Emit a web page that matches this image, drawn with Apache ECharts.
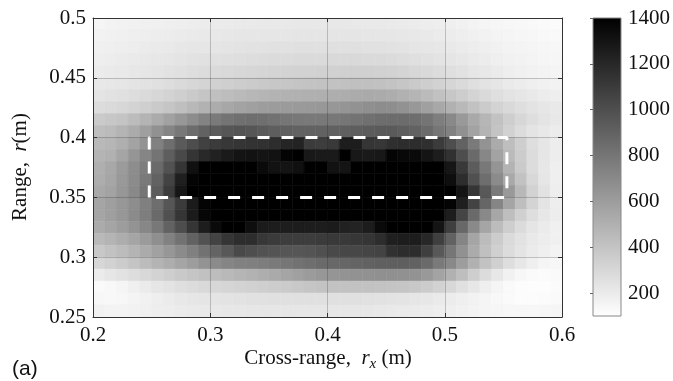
<!DOCTYPE html>
<html><head><meta charset="utf-8">
<script src="https://cdn.jsdelivr.net/npm/echarts@6/dist/echarts.min.js"></script>
<style>html,body{margin:0;padding:0;background:#fff}#c{width:673px;height:381px}</style>
</head><body><div id="c"></div>
<script>
// cell centers (m)
const xCenters = [0.205,0.215,0.225,0.235,0.245,0.255,0.265,0.275,0.285,0.295,0.305,0.315,0.325,0.335,0.345,0.355,0.365,0.375,0.385,0.395,0.405,0.415,0.425,0.435,0.445,0.455,0.465,0.475,0.485,0.495,0.505,0.515,0.525,0.535,0.545,0.555,0.565,0.575,0.585,0.595];
const yCenters = [0.495,0.485,0.475,0.465,0.455,0.445,0.435,0.425,0.415,0.405,0.395,0.385,0.375,0.365,0.355,0.345,0.335,0.325,0.315,0.305,0.295,0.285,0.275,0.265,0.255];
// image intensity, one array per range row (top to bottom)
const z0495 = [150,160,165,170,175,175,180,185,190,195,200,200,205,205,210,210,210,215,215,215,215,215,210,210,210,205,200,195,190,185,180,170,160,150,145,140,135,130,125,120];
const z0485 = [165,170,175,180,185,190,195,200,205,210,215,220,225,225,230,230,230,235,235,235,235,235,235,230,230,225,220,215,210,200,195,185,175,165,155,150,145,140,135,130];
const z0475 = [175,180,185,190,200,205,210,220,225,230,235,240,245,250,250,255,255,260,260,260,260,260,260,255,255,250,245,235,230,220,210,200,190,180,170,160,155,150,145,140];
const z0465 = [185,190,200,205,215,220,230,240,250,255,260,265,270,275,280,285,285,290,290,290,295,295,295,290,290,285,275,265,255,245,235,220,205,195,180,170,165,155,150,145];
const z0455 = [200,205,210,220,230,240,250,260,270,280,290,295,305,310,315,320,325,330,330,335,335,340,340,340,335,330,320,305,295,280,265,250,230,215,200,185,175,165,160,155];
const z0445 = [215,220,230,240,250,260,275,290,305,320,335,345,355,365,375,385,390,400,405,410,410,415,420,420,415,405,390,370,350,330,310,290,265,245,225,205,195,180,170,165];
const z0435 = [240,250,260,275,290,305,325,345,370,395,420,435,450,465,475,485,495,500,505,510,515,520,530,535,530,520,500,475,445,415,385,355,320,290,265,245,225,210,195,185];
const z0425 = [280,290,305,325,345,370,395,425,460,495,525,550,570,585,600,605,610,615,620,625,630,640,655,670,680,675,655,625,585,545,500,455,410,365,325,295,270,245,225,210];
const z0415 = [370,385,400,440,480,530,580,630,680,730,780,810,830,840,835,820,800,790,785,785,790,800,815,830,845,850,850,840,810,760,700,620,540,470,410,350,305,270,240,215];
const z0405 = [430,445,480,530,590,660,720,790,850,900,930,960,970,960,940,920,910,900,900,900,905,910,920,930,940,940,920,900,860,800,740,660,570,480,400,330,280,240,215,195];
const z0395 = [455,470,510,570,650,740,840,940,1010,1070,1100,1120,1130,1140,1150,1170,1210,1220,1100,1090,1110,1250,1250,1130,1120,1160,1170,1170,1160,1100,1000,900,780,650,530,430,350,270,230,190];
const z0385 = [480,500,560,640,720,810,920,1030,1130,1190,1230,1270,1300,1310,1300,1310,1380,1400,1280,1270,1270,1400,1280,1270,1280,1380,1360,1350,1300,1250,1150,1000,860,710,570,450,360,280,230,190];
const z0375 = [510,545,610,680,760,860,980,1130,1320,1400,1400,1400,1400,1400,1350,1310,1300,1320,1400,1400,1310,1300,1400,1400,1400,1400,1400,1400,1400,1400,1290,1110,930,790,640,490,370,280,220,180];
const z0365 = [520,555,620,690,780,900,1060,1240,1380,1400,1400,1400,1400,1400,1400,1400,1400,1400,1400,1400,1400,1400,1400,1400,1400,1400,1400,1400,1400,1400,1330,1170,990,840,690,540,410,300,230,180];
const z0355 = [545,570,630,700,800,930,1100,1290,1400,1400,1400,1400,1400,1400,1400,1400,1400,1400,1400,1400,1400,1400,1400,1400,1400,1400,1400,1400,1400,1400,1400,1300,1130,950,780,620,460,330,250,185];
const z0345 = [560,590,630,680,750,840,960,1100,1260,1380,1400,1400,1400,1400,1400,1400,1400,1400,1400,1400,1400,1400,1400,1400,1400,1400,1400,1400,1400,1400,1380,1240,1060,880,720,560,430,320,240,185];
const z0335 = [560,590,630,690,760,860,990,1130,1260,1370,1400,1400,1400,1400,1400,1400,1400,1400,1400,1400,1400,1400,1400,1400,1400,1400,1400,1400,1400,1400,1250,1050,860,700,550,430,340,270,220,190];
const z0325 = [530,560,600,650,710,790,900,1010,1130,1250,1350,1400,1400,1330,1260,1250,1250,1250,1250,1250,1260,1230,1220,1250,1350,1400,1400,1400,1400,1300,1080,870,700,560,440,350,285,235,200,175];
const z0315 = [455,480,520,560,610,670,740,820,900,980,1060,1130,1170,1170,1120,1100,1090,1090,1090,1100,1110,1110,1120,1130,1170,1240,1250,1250,1200,1080,900,720,560,440,360,290,250,210,190,175];
const z0305 = [380,410,440,480,530,580,630,690,750,820,890,950,1030,1000,980,970,960,960,970,990,1030,1040,1040,1050,1060,1150,1170,1170,1080,950,800,660,530,420,340,280,240,200,180,160];
const z0295 = [305,330,360,400,440,480,520,560,600,650,690,720,740,750,765,780,800,820,840,860,870,880,890,900,910,915,915,900,860,780,700,600,500,410,340,270,220,180,150,140];
const z0285 = [200,225,250,275,300,325,350,375,395,415,435,455,475,495,515,535,560,585,610,630,640,650,655,660,665,665,660,650,620,570,500,430,350,280,220,170,140,125,120,125];
const z0275 = [125,135,150,175,200,225,245,265,280,295,305,315,325,335,345,355,365,380,395,405,410,410,410,410,405,400,395,380,360,330,300,260,220,180,150,125,115,110,110,120];
const z0265 = [140,135,140,155,170,185,200,215,225,235,240,245,250,255,255,260,260,260,260,260,260,260,260,255,250,245,240,230,220,205,195,180,165,150,135,125,115,115,120,125];
const z0255 = [170,160,160,165,175,185,190,200,205,210,215,220,220,225,225,225,225,225,225,225,225,225,225,220,215,210,205,200,195,185,180,170,160,150,145,140,140,140,145,150];
const rowsTopToBottom = [z0495,z0485,z0475,z0465,z0455,z0445,z0435,z0425,z0415,z0405,z0395,z0385,z0375,z0365,z0355,z0345,z0335,z0325,z0315,z0305,z0295,z0285,z0275,z0265,z0255];

const colorbarRange = [100, 1400];
const colorbarTicks = [200, 400, 600, 800, 1000, 1200, 1400];
const xTicks = [0.2, 0.3, 0.4, 0.5, 0.6];
const yTicks = [0.25, 0.3, 0.35, 0.4, 0.45, 0.5];
// dashed region of interest
const boxX = [0.248, 0.248, 0.553, 0.553, 0.248];
const boxY = [0.35, 0.40, 0.40, 0.35, 0.35];

const heat = [];
rowsTopToBottom.forEach((row, i) => row.forEach((v, k) => heat.push([xCenters[k], yCenters[i], v])));
const dx = xCenters[1] - xCenters[0];
const dy = yCenters[0] - yCenters[1];

const SERIF = "'Liberation Serif', 'Times New Roman', serif";
const axisCol = '#333';
const chart = echarts.init(document.getElementById('c'), null, {renderer: 'canvas'});
const labelStyle = {color: '#111', fontFamily: SERIF, fontSize: 21};
const richLabel = {t: {color: '#111', fontFamily: SERIF, fontSize: 21}};
const frameAxis = (pos, extra) => Object.assign({
  gridIndex: 0, type: 'value', position: pos, z: 5,
  axisLine: {show: true, onZero: false, lineStyle: {color: axisCol, width: 1}},
  axisTick: {show: true, inside: true, length: 4, lineStyle: {color: axisCol}},
  axisLabel: {show: false},
  splitLine: {show: false}
}, extra);

chart.setOption({
  animation: false,
  backgroundColor: '#fff',
  textStyle: {fontFamily: SERIF},
  grid: [
    {left: 93, top: 18, width: 469, height: 299},
    {left: 593, top: 18, width: 31, height: 298}
  ],
  visualMap: {show: false, type: 'continuous', min: colorbarRange[0], max: colorbarRange[1], dimension: 2, seriesIndex: 0, inRange: {color: ['#ffffff', '#000000']}},
  xAxis: [
    frameAxis('bottom', {min: 0.2, max: 0.6, interval: 0.1,
      axisTick: {show: true, inside: true, length: 4, customValues: xTicks, lineStyle: {color: axisCol}},
      axisLabel: Object.assign({show: true, margin: 8, customValues: xTicks, formatter: v => '{t|' + String(Math.round(v * 10) / 10) + '}', rich: richLabel}, labelStyle),
      splitLine: {show: true, lineStyle: {color: 'rgba(0,0,0,0.2)', width: 1}}}),
    frameAxis('top', {min: 0.2, max: 0.6, interval: 0.1}),
    {gridIndex: 1, type: 'value', min: 0, max: 1, show: false}
  ],
  yAxis: [
    frameAxis('left', {min: 0.25, max: 0.5, interval: 0.05,
      axisTick: {show: true, inside: true, length: 4, customValues: yTicks, lineStyle: {color: axisCol}},
      axisLabel: Object.assign({show: true, margin: 7, customValues: yTicks, formatter: v => '{t|' + String(Math.round(v * 100) / 100) + '}', rich: richLabel}, labelStyle),
      splitLine: {show: true, lineStyle: {color: 'rgba(0,0,0,0.2)', width: 1}}}),
    frameAxis('right', {min: 0.25, max: 0.5, interval: 0.05}),
    {gridIndex: 1, type: 'value', min: colorbarRange[0], max: colorbarRange[1], position: 'right', z: 5,
      axisLine: {show: false},
      axisTick: {show: true, inside: true, length: 3, customValues: colorbarTicks, lineStyle: {color: '#666'}},
      axisLabel: Object.assign({show: true, customValues: colorbarTicks, margin: 7, formatter: v => String(v)}, labelStyle),
      splitLine: {show: false}}
  ],
  series: [
    {
      type: 'custom', xAxisIndex: 0, yAxisIndex: 0, z: 2, silent: true,
      encode: {x: 0, y: 1},
      data: heat,
      renderItem: (params, api) => {
        const x = api.value(0), y = api.value(1);
        const p1 = api.coord([x - dx / 2, y + dy / 2]);
        const p2 = api.coord([x + dx / 2, y - dy / 2]);
        const c = api.visual('color');
        return {type: 'rect', shape: {x: p1[0], y: p1[1], width: p2[0] - p1[0], height: p2[1] - p1[1]},
          style: {fill: c, stroke: c, lineWidth: 0.6}};
      },
      clip: true
    },
    {
      type: 'line', xAxisIndex: 0, yAxisIndex: 0, z: 10, silent: true,
      data: boxX.map((x, i) => [x, boxY[i]]),
      symbol: 'none',
      lineStyle: {color: '#ffffff', width: 3, type: [12, 12], cap: 'butt'}
    },
    {
      type: 'custom', xAxisIndex: 2, yAxisIndex: 2, z: 2, silent: true,
      data: [[0, colorbarRange[0], colorbarRange[1]]],
      renderItem: (params, api) => {
        const p1 = api.coord([0, api.value(2)]);
        const p2 = api.coord([1, api.value(1)]);
        return {type: 'rect', shape: {x: p1[0], y: p1[1], width: p2[0] - p1[0], height: p2[1] - p1[1]},
          style: {fill: new echarts.graphic.LinearGradient(0, 0, 0, 1, [{offset: 0, color: '#000000'}, {offset: 1, color: '#ffffff'}]),
            stroke: '#888', lineWidth: 1}};
      }
    }
  ],
  graphic: [
    {type: 'text', x: 20, y: 167, rotation: Math.PI / 2,
      style: {text: '{n|Range,  }{i|r}{n|(m)}', align: 'center', verticalAlign: 'middle',
        rich: {n: {fontFamily: SERIF, fontSize: 21, fill: '#111'}, i: {fontFamily: SERIF, fontSize: 21, fontStyle: 'italic', fill: '#111'}}}},
    {type: 'text', x: 328, y: 358,
      style: {text: '{n|Cross-range,  }{i|r}{s|x}{n| (m)}', align: 'center', verticalAlign: 'middle',
        rich: {n: {fontFamily: SERIF, fontSize: 21, fill: '#111'}, i: {fontFamily: SERIF, fontSize: 21, fontStyle: 'italic', fill: '#111'},
          s: {fontFamily: SERIF, fontSize: 15, fontStyle: 'italic', fill: '#111', padding: [12, 0, 0, 0]}}}},
    {type: 'text', x: 12, y: 369,
      style: {text: '(a)', fontFamily: "'Liberation Sans', Arial, sans-serif", fontSize: 21, fill: '#111', verticalAlign: 'middle'}}
  ]
});
</script></body></html>
